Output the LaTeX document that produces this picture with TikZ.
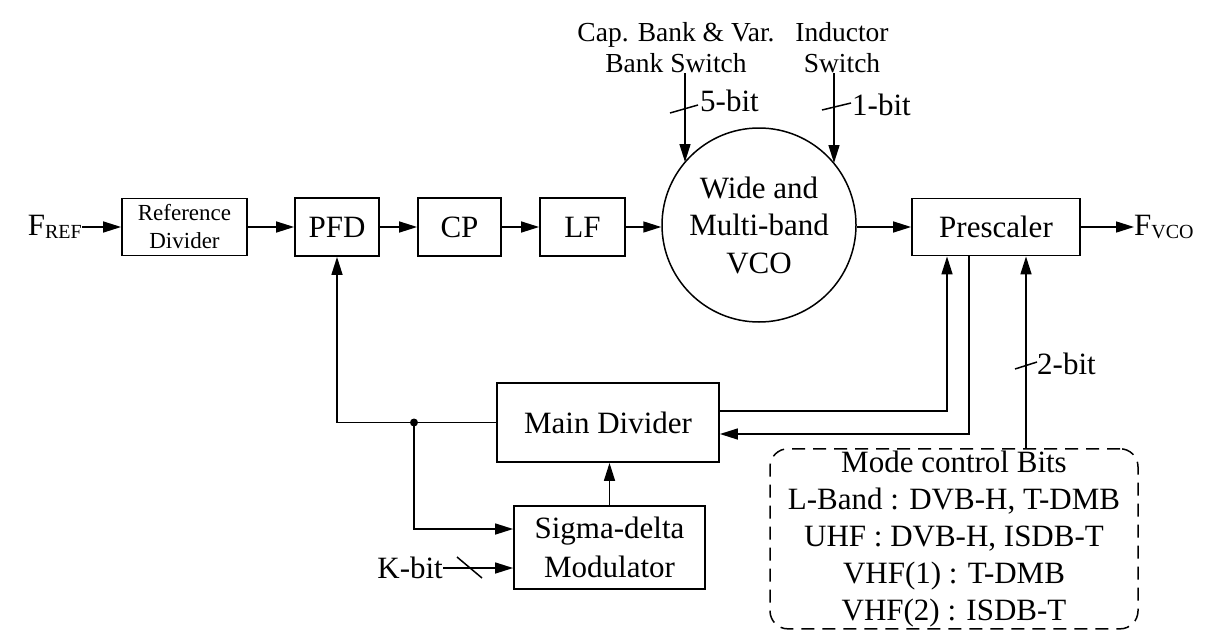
\documentclass[tikz,border=0pt]{standalone}
\usepackage{fontspec}
\setmainfont{Liberation Serif}
\usetikzlibrary{arrows.meta,calc}
\begin{document}
\begin{tikzpicture}[x=1pt,y=-1pt,
  box/.style={draw,line width=1.8pt,inner sep=0pt,font=\fontsize{31}{37}\selectfont,align=center},
  arr/.style={line width=1.5pt,-{Triangle[length=18pt,width=11pt]}},
  ln/.style={line width=1.5pt},
  lbl/.style={inner sep=0pt,font=\fontsize{31}{37}\selectfont},
  toplbl/.style={inner sep=0pt,font=\fontsize{27.5}{31}\selectfont,align=center},
]
\useasboundingbox (0,0) rectangle (1222,629);
% forward chain
\node[lbl,anchor=east] (fref) at (82,227) {F\raisebox{-3pt}{\fontsize{20}{20}\selectfont REF}};
\node[box,minimum width=125pt,minimum height=57pt,font=\fontsize{23}{28}\selectfont] (refdiv) at (184.5,227) {Reference\\Divider};
\node[box,minimum width=84pt,minimum height=58pt] (pfd) at (337,227) {PFD};
\node[box,minimum width=83pt,minimum height=58pt] (cp) at (459.5,227) {CP};
\node[box,minimum width=85pt,minimum height=58pt] (lf) at (582.5,227) {LF};
\node[draw,circle,line width=1.5pt,minimum size=194pt,inner sep=0pt,font=\fontsize{31}{37.5}\selectfont,align=center] (vco) at (759,225) {Wide and\\Multi-band\\VCO};
\node[box,minimum width=168pt,minimum height=57pt] (pre) at (996,227) {Prescaler};
\node[lbl,anchor=west] (fvco) at (1134,227) {F\raisebox{-3pt}{\fontsize{20}{20}\selectfont VCO}};
\draw[arr] (fref) -- (refdiv);
\draw[arr] (refdiv) -- (pfd);
\draw[arr] (pfd) -- (cp);
\draw[arr] (cp) -- (lf);
\draw[arr] (lf.east) -- (lf.east -| vco.west);
\draw[arr] (vco.east |- pre.west) -- (pre.west);
\draw[arr] (pre) -- (fvco);
% VCO control inputs
\node[toplbl] (caplab) at (676,48) {Cap. Bank \& Var.\\Bank Switch};
\node[toplbl] (indlab) at (842,48) {Inductor\\Switch};
\coordinate (capend) at (685,162);
\coordinate (indend) at (834,163);
\draw[arr] (capend |- caplab.south) -- (capend);
\draw[arr] (indend |- indlab.south) -- (indend);
\draw[ln] (670,113) -- (698,105);
\node[lbl,anchor=west] (b5) at (700,101) {5-bit};
\draw[ln] (822,110) -- (851,103);
\node[lbl,anchor=west] (b1) at (852,105) {1-bit};
% feedback part
\node[box,minimum width=222pt,minimum height=79pt] (main) at (608,422.5) {Main Divider};
\node[box,minimum width=191pt,minimum height=83pt,font=\fontsize{31}{39}\selectfont] (sdm) at (609.5,547.5) {Sigma-delta\\Modulator};
\draw[arr] (main.west) -| (pfd.south);
\coordinate (j) at (414,422.5);
\fill (j) circle (4pt);
\draw[arr] (j) |- ([yshift=18.5pt]sdm.west);
\node[lbl,anchor=east] (kbit) at (443,568) {K-bit};
\draw[arr] (kbit.east) -- (kbit.east -| sdm.west);
\draw[ln] (457,557) -- (482,578);
\draw[arr] (sdm.north) -- (sdm.north |- main.south);
\draw[arr] ([yshift=11.5pt]main.east) -| ([xshift=-49pt]pre.south);
\draw[arr] ([xshift=-27pt]pre.south) |- ([yshift=-11.5pt]main.east);
% mode control
\node[draw,line width=1.5pt,dash pattern=on 13pt off 8pt,rounded corners=18pt,anchor=north,minimum width=368pt,inner xsep=0pt,inner ysep=2pt,align=center,font=\fontsize{31}{37}\selectfont] (mode) at (954,448)
  {Mode control Bits\\L-Band : DVB-H, T-DMB\\UHF : DVB-H, ISDB-T\\VHF(1) : T-DMB\\VHF(2) : ISDB-T};
\coordinate (twob) at ([xshift=30pt]pre.south);
\draw[arr] (twob |- mode.north) -- (twob);
\draw[ln] (1015,369) -- (1037,362);
\node[lbl,anchor=west] (b2) at (1037,364) {2-bit};
\end{tikzpicture}
\end{document}
